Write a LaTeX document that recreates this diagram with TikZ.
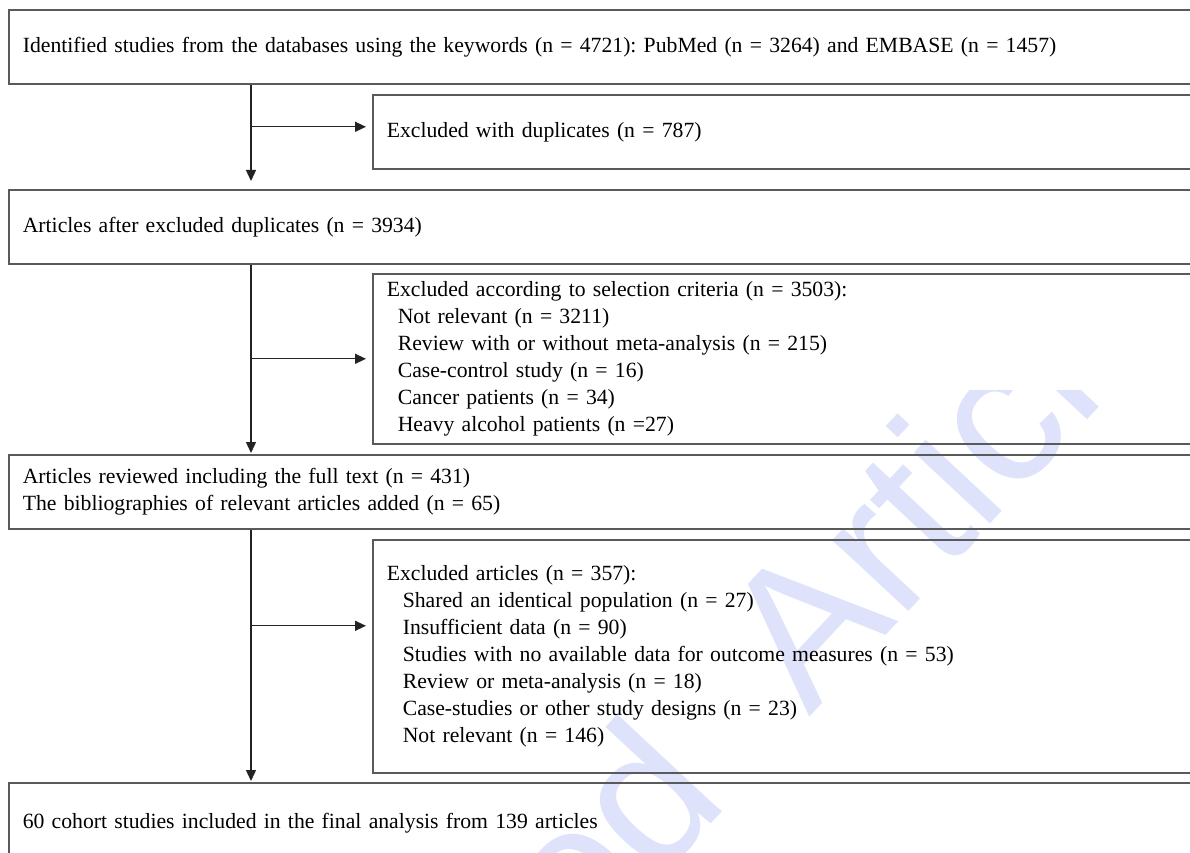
\documentclass[tikz,border=0pt]{standalone}
\usepackage{fontspec}
\setmainfont{Liberation Serif}
\newfontfamily\wmfont{Liberation Sans}
\usetikzlibrary{arrows.meta}
\definecolor{boxline}{RGB}{90,90,90}
\definecolor{arrline}{RGB}{35,35,35}
\definecolor{wmcol}{RGB}{222,226,250}
\tikzset{
  flowbox/.style={draw=boxline, line width=1.6pt, rectangle, anchor=north west,
    inner xsep=14pt, inner ysep=0pt, align=left,
    font=\fontsize{21.7}{27}\selectfont\frenchspacing},
  leftbox/.style={flowbox, text width=1164pt},
  rightbox/.style={flowbox, text width=800pt},
  arr/.style={draw=arrline, line width=1.3pt, -{Triangle[length=11pt,width=10pt]}},
  wmtext/.style={font=\wmfont\fontsize{197}{197}\selectfont, text=wmcol, rotate=47, inner sep=0pt}
}
\begin{document}
\begin{tikzpicture}[x=1pt,y=-1pt]
\useasboundingbox (0,0) rectangle (1190,853);
% watermark
\begin{scope}
\clip (0,390) rectangle (1190,853);
\node[wmtext, anchor=base west] (wmB) at (809.8,717.7) {Article};
\node[wmtext, anchor=base east] (wmA) at (731.4,801.8) {Accepted};
\end{scope}
\clip (0,0) rectangle (1190,853);
% boxes
\node[leftbox, minimum height=74pt] (b1) at (8,9)
  {Identified studies from the databases using the keywords (n = 4721): PubMed (n = 3264) and EMBASE (n = 1457)};
\node[rightbox, minimum height=74pt] (b2) at (372,94)
  {Excluded with duplicates (n = 787)};
\node[leftbox, minimum height=74pt] (b3) at (8,189)
  {Articles after excluded duplicates (n = 3934)};
\node[rightbox, minimum height=170pt] (b4) at (372,273)
  {Excluded according to selection criteria (n = 3503):\\
   \hspace*{11pt}Not relevant (n = 3211)\\
   \hspace*{11pt}Review with or without meta-analysis (n = 215)\\
   \hspace*{11pt}Case-control study (n = 16)\\
   \hspace*{11pt}Cancer patients (n = 34)\\
   \hspace*{11pt}Heavy alcohol patients (n =27)};
\node[leftbox, minimum height=74pt] (b5) at (8,454)
  {Articles reviewed including the full text (n = 431)\\
   The bibliographies of relevant articles added (n = 65)};
\node[rightbox, minimum height=233pt] (b6) at (372,539)
  {Excluded articles (n = 357):\\
   \hspace*{16pt}Shared an identical population (n = 27)\\
   \hspace*{16pt}Insufficient data (n = 90)\\
   \hspace*{16pt}Studies with no available data for outcome measures (n = 53)\\
   \hspace*{16pt}Review or meta-analysis (n = 18)\\
   \hspace*{16pt}Case-studies or other study designs (n = 23)\\
   \hspace*{16pt}Not relevant (n = 146)};
\node[leftbox, minimum height=80pt] (b7) at (8,782)
  {60 cohort studies included in the final analysis from 139 articles};
% connectors
\coordinate (sp) at (251,0);
\coordinate (a2) at ([yshift=5pt]b2.west);
\coordinate (a4) at (b4.west);
\coordinate (a6) at ([yshift=30.5pt]b6.west);
\draw[arr, shorten >=8pt] (b1.south -| sp) -- (b3.north -| sp);
\draw[arr, shorten >=6pt] (a2 -| sp) -- (a2);
\draw[arr, shorten >=1pt] (b3.south -| sp) -- (b5.north -| sp);
\draw[arr, shorten >=6pt] (a4 -| sp) -- (a4);
\draw[arr, shorten >=1pt] (b5.south -| sp) -- (b7.north -| sp);
\draw[arr, shorten >=6pt] (a6 -| sp) -- (a6);
\end{tikzpicture}
\end{document}
